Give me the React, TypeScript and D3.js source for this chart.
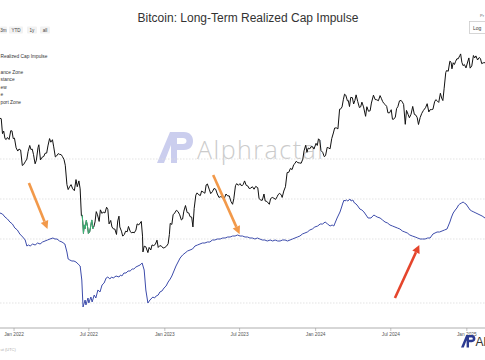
import React from 'react';
import * as d3 from 'd3';

const W = 485;
const H = 360;

// BTC price (USD)
const btcPrice: [string, number][] = [
  ['2021-11-28', 57200], ['2021-12-01', 57000], ['2021-12-04', 49400], ['2021-12-07', 50600],
  ['2021-12-10', 47100], ['2021-12-13', 46700], ['2021-12-16', 47600], ['2021-12-20', 46700],
  ['2021-12-24', 50800], ['2021-12-27', 50700], ['2021-12-30', 47100], ['2022-01-02', 47300],
  ['2022-01-06', 43100], ['2022-01-10', 41800], ['2022-01-13', 42600], ['2022-01-17', 42200],
  ['2022-01-21', 36400], ['2022-01-24', 36700], ['2022-01-28', 37700], ['2022-02-01', 38700],
  ['2022-02-04', 41600], ['2022-02-08', 44100], ['2022-02-11', 42400], ['2022-02-14', 42600],
  ['2022-02-17', 40500], ['2022-02-21', 37000], ['2022-02-24', 38300], ['2022-02-28', 43200],
  ['2022-03-02', 44400], ['2022-03-06', 38400], ['2022-03-10', 39400], ['2022-03-14', 39700],
  ['2022-03-17', 40900], ['2022-03-21', 41000], ['2022-03-24', 43900], ['2022-03-28', 47100],
  ['2022-03-31', 45500], ['2022-04-04', 46600], ['2022-04-07', 43500], ['2022-04-11', 39500],
  ['2022-04-14', 39900], ['2022-04-18', 40800], ['2022-04-21', 40500], ['2022-04-25', 40400],
  ['2022-04-28', 39700], ['2022-05-02', 38500], ['2022-05-05', 36500], ['2022-05-09', 30300],
  ['2022-05-12', 28900], ['2022-05-16', 29800], ['2022-05-19', 30300], ['2022-05-23', 29100],
  ['2022-05-27', 28600], ['2022-05-31', 31800], ['2022-06-03', 29700], ['2022-06-07', 31400],
  ['2022-06-10', 29100], ['2022-06-13', 22500], ['2022-06-15', 22600], ['2022-06-17', 20400],
  ['2022-06-18', 19000], ['2022-06-20', 20600], ['2022-06-22', 19900], ['2022-06-25', 21500],
  ['2022-06-28', 20200], ['2022-06-30', 19000], ['2022-07-03', 19300], ['2022-07-06', 20500],
  ['2022-07-08', 21600], ['2022-07-11', 19900], ['2022-07-13', 20200], ['2022-07-16', 21200],
  ['2022-07-19', 23400], ['2022-07-22', 22700], ['2022-07-26', 21300], ['2022-07-29', 23800],
  ['2022-08-02', 23000], ['2022-08-05', 23300], ['2022-08-09', 23100], ['2022-08-13', 24400],
  ['2022-08-16', 23900], ['2022-08-19', 20800], ['2022-08-23', 21500], ['2022-08-26', 20200],
  ['2022-08-30', 19800], ['2022-09-02', 19800], ['2022-09-06', 18800], ['2022-09-09', 21400],
  ['2022-09-12', 22400], ['2022-09-14', 20200], ['2022-09-18', 19400], ['2022-09-21', 18500],
  ['2022-09-25', 18800], ['2022-09-28', 19400], ['2022-10-02', 19300], ['2022-10-05', 20300],
  ['2022-10-09', 19400], ['2022-10-12', 19100], ['2022-10-16', 19200], ['2022-10-19', 19100],
  ['2022-10-23', 19600], ['2022-10-26', 20800], ['2022-10-30', 20600], ['2022-11-05', 21300],
  ['2022-11-08', 18500], ['2022-11-09', 15900], ['2022-11-12', 16800], ['2022-11-16', 16700],
  ['2022-11-21', 15800], ['2022-11-24', 16600], ['2022-11-28', 16200], ['2022-12-01', 17000],
  ['2022-12-05', 16900], ['2022-12-09', 17100], ['2022-12-13', 17800], ['2022-12-16', 16600],
  ['2022-12-20', 16900], ['2022-12-24', 16800], ['2022-12-28', 16500], ['2023-01-01', 16600],
  ['2023-01-05', 16800], ['2023-01-09', 17200], ['2023-01-12', 18800], ['2023-01-14', 20900],
  ['2023-01-18', 20700], ['2023-01-21', 22700], ['2023-01-25', 23100], ['2023-01-29', 23700],
  ['2023-02-02', 23400], ['2023-02-06', 22700], ['2023-02-10', 21600], ['2023-02-13', 21800],
  ['2023-02-16', 23500], ['2023-02-20', 24800], ['2023-02-24', 23200], ['2023-02-28', 23100],
  ['2023-03-03', 22300], ['2023-03-07', 22200], ['2023-03-10', 20200], ['2023-03-13', 24100],
  ['2023-03-17', 27400], ['2023-03-20', 28000], ['2023-03-24', 27500], ['2023-03-28', 27300],
  ['2023-03-31', 28500], ['2023-04-04', 28200], ['2023-04-08', 27900], ['2023-04-11', 30200],
  ['2023-04-14', 30500], ['2023-04-19', 28800], ['2023-04-22', 27800], ['2023-04-26', 28300],
  ['2023-04-30', 29200], ['2023-05-04', 29000], ['2023-05-08', 27700], ['2023-05-12', 26800],
  ['2023-05-16', 27000], ['2023-05-20', 26900], ['2023-05-24', 26300], ['2023-05-29', 27700],
  ['2023-06-02', 27200], ['2023-06-06', 27200], ['2023-06-10', 25800], ['2023-06-14', 25100],
  ['2023-06-17', 26500], ['2023-06-21', 30000], ['2023-06-24', 30600], ['2023-06-28', 30100],
  ['2023-07-02', 30600], ['2023-07-06', 29900], ['2023-07-10', 30400], ['2023-07-13', 31400],
  ['2023-07-17', 30100], ['2023-07-21', 29900], ['2023-07-24', 29200], ['2023-07-28', 29300],
  ['2023-08-01', 29700], ['2023-08-05', 29000], ['2023-08-09', 29800], ['2023-08-14', 29400],
  ['2023-08-17', 26600], ['2023-08-21', 26100], ['2023-08-25', 26100], ['2023-08-29', 27700],
  ['2023-09-01', 25900], ['2023-09-05', 25800], ['2023-09-11', 25100], ['2023-09-14', 26500],
  ['2023-09-18', 26800], ['2023-09-22', 26600], ['2023-09-26', 26300], ['2023-09-30', 27000],
  ['2023-10-02', 27500], ['2023-10-06', 27900], ['2023-10-10', 27400], ['2023-10-12', 26800],
  ['2023-10-16', 28500], ['2023-10-20', 29700], ['2023-10-24', 34000], ['2023-10-28', 34100],
  ['2023-11-01', 35400], ['2023-11-05', 35000], ['2023-11-09', 36700], ['2023-11-12', 37100],
  ['2023-11-15', 37900], ['2023-11-19', 37400], ['2023-11-23', 37300], ['2023-11-27', 37200],
  ['2023-12-01', 38700], ['2023-12-04', 41900], ['2023-12-08', 44200], ['2023-12-11', 41300],
  ['2023-12-14', 43000], ['2023-12-18', 42700], ['2023-12-21', 43600], ['2023-12-25', 43500],
  ['2023-12-28', 42600], ['2024-01-02', 45000], ['2024-01-05', 44100], ['2024-01-08', 47000],
  ['2024-01-11', 46400], ['2024-01-14', 42000], ['2024-01-18', 41300], ['2024-01-22', 39600],
  ['2024-01-25', 40000], ['2024-01-29', 43300], ['2024-02-01', 43100], ['2024-02-05', 42700],
  ['2024-02-09', 47100], ['2024-02-13', 49700], ['2024-02-16', 52100], ['2024-02-20', 52200],
  ['2024-02-24', 51700], ['2024-02-28', 62400], ['2024-03-01', 62400], ['2024-03-05', 63800],
  ['2024-03-08', 68300], ['2024-03-11', 72100], ['2024-03-14', 71400], ['2024-03-18', 67600],
  ['2024-03-20', 67900], ['2024-03-23', 64000], ['2024-03-26', 69900], ['2024-03-30', 69700],
  ['2024-04-02', 65600], ['2024-04-05', 67800], ['2024-04-08', 71600], ['2024-04-12', 67100],
  ['2024-04-16', 63400], ['2024-04-19', 63800], ['2024-04-22', 66800], ['2024-04-26', 63800],
  ['2024-05-01', 58300], ['2024-05-04', 63900], ['2024-05-08', 61200], ['2024-05-12', 61500],
  ['2024-05-15', 66200], ['2024-05-20', 71400], ['2024-05-24', 68500], ['2024-05-28', 68300],
  ['2024-06-01', 67700], ['2024-06-05', 71100], ['2024-06-08', 69300], ['2024-06-11', 67300],
  ['2024-06-14', 66000], ['2024-06-18', 65100], ['2024-06-21', 64100], ['2024-06-24', 60300],
  ['2024-06-28', 60300], ['2024-07-02', 62100], ['2024-07-05', 56700], ['2024-07-08', 56700],
  ['2024-07-12', 57900], ['2024-07-15', 62800], ['2024-07-18', 63900], ['2024-07-22', 67600],
  ['2024-07-26', 67900], ['2024-07-29', 66800], ['2024-08-01', 65300], ['2024-08-05', 54000],
  ['2024-08-08', 61700], ['2024-08-12', 59300], ['2024-08-15', 57500], ['2024-08-19', 59500],
  ['2024-08-23', 64100], ['2024-08-27', 59400], ['2024-08-31', 58900], ['2024-09-03', 57500],
  ['2024-09-06', 53900], ['2024-09-10', 57600], ['2024-09-14', 60000], ['2024-09-18', 61700],
  ['2024-09-23', 63300], ['2024-09-27', 65800], ['2024-10-01', 60800], ['2024-10-04', 62100],
  ['2024-10-08', 62200], ['2024-10-11', 62400], ['2024-10-15', 67000], ['2024-10-18', 68400],
  ['2024-10-22', 67400], ['2024-10-25', 66600], ['2024-10-29', 72700], ['2024-11-01', 69500],
  ['2024-11-04', 67800], ['2024-11-07', 75900], ['2024-11-11', 88700], ['2024-11-13', 90400],
  ['2024-11-17', 89800], ['2024-11-21', 98900], ['2024-11-24', 97800], ['2024-11-26', 91900],
  ['2024-11-29', 97400], ['2024-12-02', 95800], ['2024-12-05', 98800], ['2024-12-08', 101200],
  ['2024-12-11', 101100], ['2024-12-15', 104300], ['2024-12-17', 106000], ['2024-12-20', 97800],
  ['2024-12-23', 94700], ['2024-12-26', 95800], ['2024-12-30', 92700], ['2025-01-03', 98100],
  ['2025-01-06', 102000], ['2025-01-09', 92500], ['2025-01-13', 94500], ['2025-01-17', 104400],
  ['2025-01-20', 102000], ['2025-01-23', 104000], ['2025-01-27', 100000], ['2025-01-31', 102400],
  ['2025-02-03', 101400], ['2025-02-06', 96600], ['2025-02-10', 97400], ['2025-02-14', 97500],
];

// realized cap impulse (blue line)
const impulse: [string, number][] = [
  ['2021-11-28', 6.5], ['2021-12-04', 6.25], ['2021-12-10', 5.5], ['2021-12-16', 5], ['2021-12-22', 4.25],
  ['2021-12-28', 3.75], ['2022-01-03', 2.75], ['2022-01-09', 2.25], ['2022-01-15', 1.25],
  ['2022-01-22', 0.5], ['2022-01-28', -0.25], ['2022-02-01', -1.75], ['2022-02-05', -1.5],
  ['2022-02-09', -1.75], ['2022-02-15', -1.25], ['2022-02-21', -1.5], ['2022-02-27', -1],
  ['2022-03-05', -1.25], ['2022-03-11', -0.75], ['2022-03-17', -0.5], ['2022-03-23', -0.25],
  ['2022-03-29', 0], ['2022-04-05', 0.25], ['2022-04-10', 0], ['2022-04-15', 0],
  ['2022-04-21', -0.5], ['2022-04-27', -0.75], ['2022-05-04', -1.25], ['2022-05-09', -3.25],
  ['2022-05-12', -5], ['2022-05-16', -5.25], ['2022-05-21', -5.5], ['2022-05-26', -5.5],
  ['2022-05-31', -5.75], ['2022-06-05', -6.25], ['2022-06-10', -6.75], ['2022-06-14', -10.25],
  ['2022-06-17', -17], ['2022-06-22', -15.25], ['2022-06-24', -16.5], ['2022-06-29', -14.75],
  ['2022-07-01', -16], ['2022-07-06', -14.5], ['2022-07-09', -15.75], ['2022-07-14', -14],
  ['2022-07-18', -14.75], ['2022-07-23', -12.75], ['2022-07-28', -13.25], ['2022-08-02', -11.5],
  ['2022-08-07', -11], ['2022-08-12', -9.75], ['2022-08-16', -9.5], ['2022-08-21', -10],
  ['2022-08-25', -9.5], ['2022-08-29', -9.75], ['2022-09-05', -9.25], ['2022-09-12', -9.5],
  ['2022-09-16', -9], ['2022-09-19', -9.25], ['2022-09-24', -8.5], ['2022-09-29', -8.5],
  ['2022-10-04', -8], ['2022-10-09', -8], ['2022-10-14', -7.5], ['2022-10-18', -7.5],
  ['2022-10-23', -7], ['2022-10-28', -6.75], ['2022-11-02', -6.5], ['2022-11-07', -6],
  ['2022-11-12', -7.75], ['2022-11-16', -12.75], ['2022-11-21', -16], ['2022-11-26', -15.25],
  ['2022-12-03', -14.5], ['2022-12-07', -14.75], ['2022-12-11', -14.25], ['2022-12-16', -14],
  ['2022-12-20', -13.25], ['2022-12-25', -13], ['2022-12-30', -12.25], ['2023-01-04', -11.75],
  ['2023-01-09', -10.75], ['2023-01-14', -10], ['2023-01-18', -9.25], ['2023-01-23', -8],
  ['2023-01-28', -6.75], ['2023-02-02', -5.75], ['2023-02-07', -4.75], ['2023-02-13', -4],
  ['2023-02-19', -3.5], ['2023-02-25', -3], ['2023-03-03', -2.75], ['2023-03-09', -2.5],
  ['2023-03-15', -1.75], ['2023-03-21', -1.5], ['2023-03-27', -1.25], ['2023-04-02', -1],
  ['2023-04-08', -1], ['2023-04-14', -0.75], ['2023-04-20', -0.75], ['2023-04-26', -0.25],
  ['2023-05-02', -0.25], ['2023-05-08', 0], ['2023-05-15', 0], ['2023-05-21', 0.25],
  ['2023-05-27', 0.25], ['2023-06-02', 0.5], ['2023-06-08', 0.5], ['2023-06-14', 0.75],
  ['2023-06-20', 0.75], ['2023-06-26', 1], ['2023-07-02', 0.75], ['2023-07-08', 0.75],
  ['2023-07-14', 0.5], ['2023-07-20', 0.5], ['2023-07-26', 0.25], ['2023-08-01', 0.25],
  ['2023-08-07', 0], ['2023-08-13', 0.25], ['2023-08-19', 0], ['2023-08-25', -0.25],
  ['2023-08-31', -0.25], ['2023-09-06', -0.5], ['2023-09-13', -0.25], ['2023-09-19', -0.5],
  ['2023-09-25', -0.25], ['2023-10-01', -0.5], ['2023-10-07', -0.5], ['2023-10-13', -0.25],
  ['2023-10-19', -0.25], ['2023-10-25', -0.5], ['2023-10-31', -0.25], ['2023-11-06', 0],
  ['2023-11-12', 0.25], ['2023-11-18', 0.5], ['2023-11-24', 0.75], ['2023-11-30', 1.25],
  ['2023-12-06', 1.5], ['2023-12-12', 1.75], ['2023-12-18', 2.25], ['2023-12-24', 2.5],
  ['2023-12-30', 3], ['2024-01-06', 3.25], ['2024-01-12', 3.75], ['2024-01-18', 3.75],
  ['2024-01-24', 4.25], ['2024-01-30', 3.75], ['2024-02-05', 3.25], ['2024-02-10', 3.5],
  ['2024-02-14', 3.25], ['2024-02-18', 4.25], ['2024-02-22', 5.25], ['2024-02-29', 6.75],
  ['2024-03-04', 8], ['2024-03-07', 9], ['2024-03-10', 9.75], ['2024-03-12', 9.5],
  ['2024-03-16', 9.75], ['2024-03-19', 9.5], ['2024-03-24', 10], ['2024-03-27', 9.5],
  ['2024-03-31', 9.75], ['2024-04-04', 9], ['2024-04-08', 8.75], ['2024-04-12', 8.25],
  ['2024-04-17', 7.5], ['2024-04-22', 7.25], ['2024-04-27', 6.75], ['2024-05-02', 6],
  ['2024-05-07', 5.25], ['2024-05-14', 5.25], ['2024-05-21', 6], ['2024-05-25', 5.75],
  ['2024-05-29', 5.5], ['2024-06-05', 5.25], ['2024-06-11', 4.75], ['2024-06-17', 4.25],
  ['2024-06-23', 4], ['2024-06-29', 3.5], ['2024-07-05', 3.25], ['2024-07-11', 3],
  ['2024-07-17', 2.75], ['2024-07-23', 2.5], ['2024-07-29', 2], ['2024-08-04', 1.75],
  ['2024-08-10', 1.5], ['2024-08-16', 1], ['2024-08-22', 0.75], ['2024-08-29', 0.5],
  ['2024-09-04', 0.25], ['2024-09-10', 0], ['2024-09-16', 0], ['2024-09-22', 0],
  ['2024-09-28', 0.25], ['2024-10-04', 0.25], ['2024-10-11', 1.25], ['2024-10-16', 1.5],
  ['2024-10-21', 1.75], ['2024-10-27', 1.75], ['2024-11-02', 2], ['2024-11-08', 2.25],
  ['2024-11-14', 2.5], ['2024-11-21', 4.25], ['2024-11-25', 5.5], ['2024-11-29', 6.5],
  ['2024-12-04', 7.25], ['2024-12-08', 7.75], ['2024-12-12', 8.5], ['2024-12-15', 8.75],
  ['2024-12-19', 9], ['2024-12-23', 9.25], ['2024-12-26', 9], ['2024-12-30', 8.75],
  ['2025-01-04', 8], ['2025-01-09', 7.25], ['2025-01-13', 7], ['2025-01-18', 6.75],
  ['2025-01-23', 6.5], ['2025-01-28', 6.25], ['2025-02-02', 6], ['2025-02-07', 5.75],
  ['2025-02-14', 5.25],
];

const zoneLevels = [20, 10, 0, -16];
const greenZone = ['2022-06-15', '2022-07-13'];
// legend entries, as far as they show at the cropped left edge
const legendLabels = ['Realized Cap Impulse', 'ance Zone', 'stance', 'ew', 'e', 'port Zone'];
const rangeButtons = ['3m', 'YTD', '1y', 'all'];

// annotation arrows: [date, impulse value] from -> to
const arrows = [
  { from: ['2022-02-06', 14], to: ['2022-03-23', 2.5], color: '#f2994a' },
  { from: ['2023-04-28', 16], to: ['2023-07-01', 1.2], color: '#f2994a' },
  { from: ['2024-07-11', -14.75], to: ['2024-09-08', -1.5], color: '#e5452c' },
];

const FONT = '"Liberation Sans", Arial, sans-serif';

function Logo({ fill, transform, opacity = 1 }) {
  return (
    <g transform={transform} fill={fill} opacity={opacity}>
      <path d="M0,31 L13,0 L20,0 L20,31 L14,31 L14,13 L7,31 Z" />
      <path d="M20,0 L27,0 C33,0 36,4 36,9 C36,14 33,18 27,18 L20,18 L20,12 L26,12 C28,12 29.5,11 29.5,9 C29.5,7 28,6 26,6 L20,6 Z" />
    </g>
  );
}

export default function App() {
  const parse = d3.timeParse('%Y-%m-%d');
  const x = d3.scaleTime().domain([parse('2021-11-28'), parse('2025-02-14')]).range([0, W]);
  const yPrice = d3.scaleLog().domain([20000, 100000]).range([228, 60]);
  const yImp = d3.scaleLinear().domain([0, 10]).range([239, 199]);

  const priceLine = d3.line<[string, number]>()
    .x((d) => x(parse(d[0])))
    .y((d) => yPrice(d[1]));
  const impLine = d3.line<[string, number]>()
    .x((d) => x(parse(d[0])))
    .y((d) => yImp(d[1]));

  const greenPts = btcPrice.filter((d) => d[0] >= greenZone[0] && d[0] <= greenZone[1]);
  const ticks = x.ticks(d3.timeMonth.every(6));
  const fmt = d3.timeFormat('%b %Y');

  const legendY = [57.5, 73.5, 81, 88.5, 96, 103.5];
  const btnBoxes = [[0, 7], [9, 23], [27, 37], [40, 50]];

  return (
    <svg width={W} height={H} style={{ position: 'absolute', left: 0, top: 0, background: '#fff' }}
      fontFamily={FONT}>
      <rect width={W} height={H} fill="#fff" />

      {/* watermark */}
      <Logo fill="#c3c6ec" transform="translate(157,132)" opacity={0.85} />
      <text x={197} y={159} fontSize={25} fill="#cbcbcb" fontWeight={300} textLength={126}
        fontFamily='"Open Sans", "Noto Sans", sans-serif'>Alphractal</text>

      {/* title */}
      <text x={248} y={22} textAnchor="middle" fontSize={12} fill="#333">
        Bitcoin: Long-Term Realized Cap Impulse
      </text>

      {/* range selector */}
      {rangeButtons.map((b, i) => (
        <g key={b}>
          <rect x={btnBoxes[i][0]} y={26.5} width={btnBoxes[i][1] - btnBoxes[i][0]} height={7}
            fill="#f2f2f2" rx={1} />
          <text x={(btnBoxes[i][0] + btnBoxes[i][1]) / 2} y={31.8} textAnchor="middle"
            fontSize={4.6} fill="#444">{b}</text>
        </g>
      ))}

      {/* scale switch */}
      <text x={484} y={17} textAnchor="end" fontSize={4} fill="#666">Pr</text>
      <rect x={469.5} y={21.5} width={20} height={12} fill="#fff" stroke="#ccc" strokeWidth={0.8} />
      <text x={473} y={29.5} fontSize={5} fill="#444">Log</text>

      {/* legend */}
      {legendLabels.map((l, i) => (
        <text key={l} x={0.5} y={legendY[i]} fontSize={4.8} fill="#333">{l}</text>
      ))}

      {/* zone levels */}
      {zoneLevels.map((v) => (
        <line key={v} x1={0} x2={W} y1={yImp(v)} y2={yImp(v)} stroke="#dcdcdc"
          strokeWidth={0.8} strokeDasharray="1.5,1.5" />
      ))}

      {/* series */}
      <path d={impLine(impulse)} fill="none" stroke="#3d4cab" strokeWidth={1} />
      <path d={priceLine(btcPrice)} fill="none" stroke="#111" strokeWidth={1} />
      <path d={priceLine(greenPts)} fill="none" stroke="#3dbb7a" strokeWidth={1} />

      {/* arrows */}
      {arrows.map((a, i) => {
        const x1 = x(parse(a.from[0] as string));
        const y1 = yImp(a.from[1] as number);
        const x2 = x(parse(a.to[0] as string));
        const y2 = yImp(a.to[1] as number);
        const len = Math.hypot(x2 - x1, y2 - y1);
        const ux = (x2 - x1) / len;
        const uy = (y2 - y1) / len;
        const hl = 8;
        const hw = 4;
        const bx = x2 - ux * hl;
        const by = y2 - uy * hl;
        return (
          <g key={i}>
            <line x1={x1} y1={y1} x2={bx} y2={by} stroke={a.color} strokeWidth={2.6} />
            <path d={`M${x2},${y2} L${bx - uy * hw},${by + ux * hw} L${bx + uy * hw},${by - ux * hw} Z`}
              fill={a.color} />
          </g>
        );
      })}

      {/* x axis */}
      <line x1={0} x2={W} y1={328} y2={328} stroke="#999" strokeWidth={0.8} />
      {ticks.map((t) => (
        <g key={+t} transform={`translate(${x(t)},328)`}>
          <line y1={0} y2={3} stroke="#999" strokeWidth={0.6} />
          <text y={8} textAnchor="middle" fontSize={4.8} fill="#555">{fmt(t)}</text>
        </g>
      ))}

      <text x={0.5} y={351} fontSize={4} fill="#aaa">ut (UTC)</text>

      {/* bottom-right logo */}
      <Logo fill="#2c3b91" transform="translate(461,335) scale(0.4)" />
      <text x={475.5} y={346} fontSize={12} fill="#333">Al</text>
    </svg>
  );
}
